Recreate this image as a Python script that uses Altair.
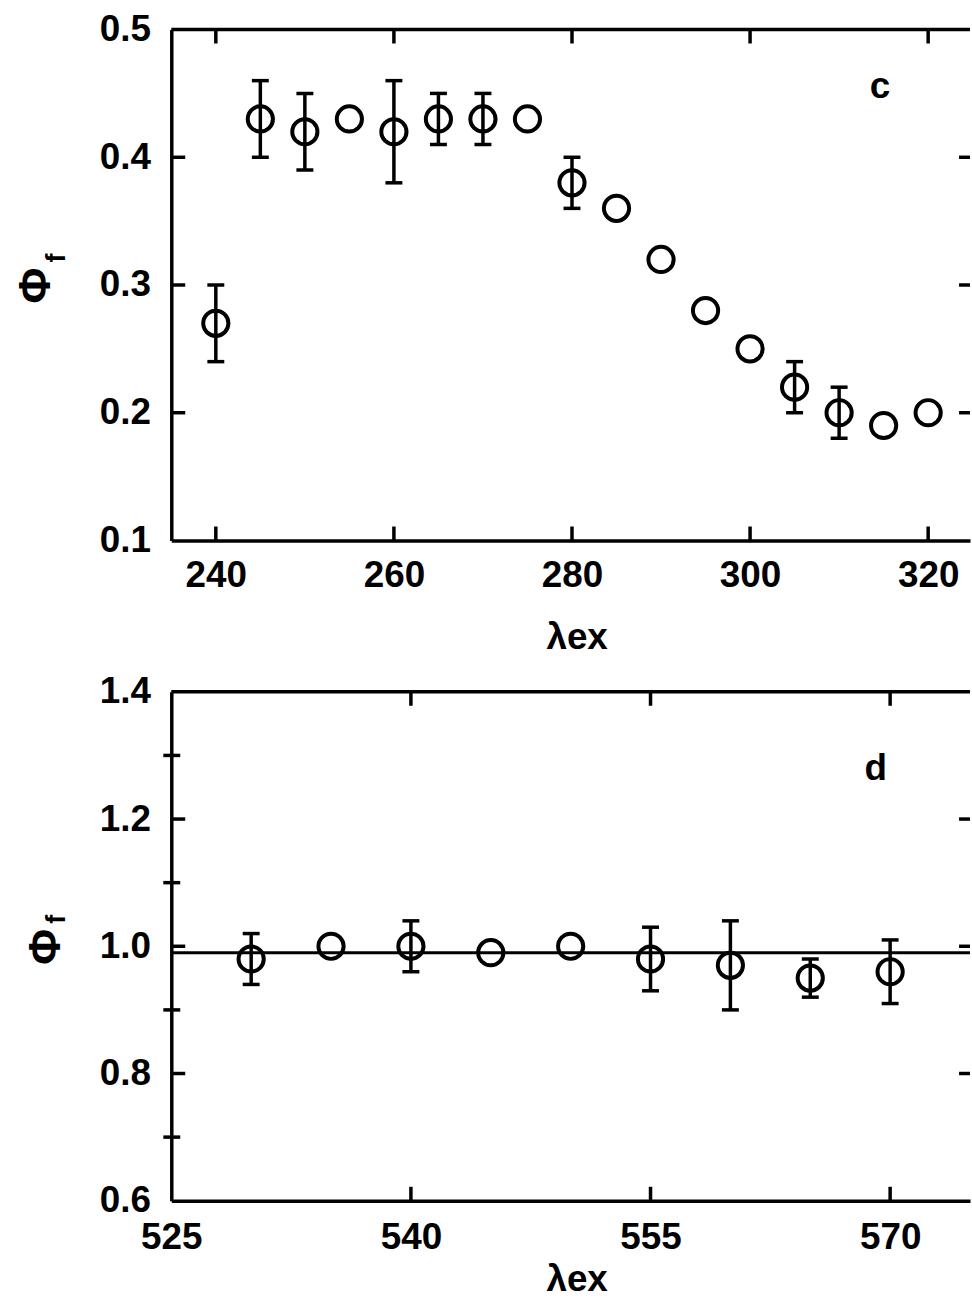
import altair as alt
import pandas as pd

# ---------------- data: panel c ----------------
lam_c = [240, 245, 250, 255, 260, 265, 270, 275, 280, 285, 290, 295, 300, 305, 310, 315, 320]
phi_c = [0.27, 0.43, 0.42, 0.43, 0.42, 0.43, 0.43, 0.43, 0.38, 0.36, 0.32, 0.28, 0.25, 0.22, 0.20, 0.19, 0.20]
err_c = [0.03, 0.03, 0.03, 0.0, 0.04, 0.02, 0.02, 0.0, 0.02, 0.0, 0.0, 0.0, 0.0, 0.02, 0.02, 0.0, 0.0]

xdom_c = [235, 324.7]
ydom_c = [0.1, 0.5]
xlab_c = [240, 260, 280, 300, 320]
ylab_c = [0.1, 0.2, 0.3, 0.4, 0.5]
xtick_c = [240, 260, 280, 300, 320]
ytick_c = [0.2, 0.3, 0.4]
yminor_c = []
letter_c = {"lam": [314.6], "phi": [0.455], "txt": ["c"]}

# ---------------- data: panel d ----------------
lam_d = [530, 535, 540, 545, 550, 555, 560, 565, 570]
phi_d = [0.98, 1.00, 1.00, 0.99, 1.00, 0.98, 0.97, 0.95, 0.96]
err_d = [0.04, 0.0, 0.04, 0.0, 0.0, 0.05, 0.07, 0.03, 0.05]
ref_d = [0.99]

xdom_d = [525, 575]
ydom_d = [0.6, 1.4]
xlab_d = [525, 540, 555, 570]
ylab_d = [0.6, 0.8, 1.0, 1.2, 1.4]
xtick_d = [540, 555, 570]
ytick_d = [0.8, 1.0, 1.2]
yminor_d = [0.7, 0.9, 1.1, 1.3]
letter_d = {"lam": [569.1], "phi": [1.278], "txt": ["d"]}

FONT = "Liberation Sans"
W = 802
FS = 37
TICK = 14
LW = 3.5


def panel(lam, phi, err, xdom, ydom, xlab, ylab, xtick, ytick, yminor, letter,
          h, x_lp, x_tp, y_tp, ref=None):
    df = pd.DataFrame({"lam": lam, "phi": phi, "err": err})
    df["lo"] = df["phi"] - df["err"]
    df["hi"] = df["phi"] + df["err"]
    dfe = df[df["err"] > 0]

    xs = alt.Scale(domain=xdom, nice=False, zero=False)
    ys = alt.Scale(domain=ydom, nice=False, zero=False)

    xaxis = alt.Axis(values=xlab, format="d", title="λex", ticks=False, tickSize=0,
                     labelPadding=x_lp, titlePadding=x_tp, titleX=407,
                     labelFlush=False, labelOverlap=False, grid=False,
                     labelFontSize=FS, titleFontSize=FS)
    yaxis = alt.Axis(values=ylab, format=".1f", title="Φ", ticks=False, tickSize=0,
                     labelPadding=21, titlePadding=y_tp, minExtent=88, maxExtent=88,
                     labelFlush=False, labelOverlap=False, grid=False,
                     labelFontSize=FS, titleFontSize=44)

    def X(f):
        return alt.X(f, scale=xs, axis=xaxis, title="λex")

    def Y(f):
        return alt.Y(f, scale=ys, axis=yaxis, title="Φ")

    layers = []
    if ref is not None:
        layers.append(alt.Chart(pd.DataFrame({"v": ref})).mark_rule(
            color="black", strokeWidth=3).encode(y=Y("v:Q")))
    ebar = alt.Chart(dfe).mark_rule(color="black", strokeWidth=LW).encode(
        x=X("lam:Q"), y=Y("lo:Q"), y2="hi:Q")
    cap_lo = alt.Chart(dfe).mark_tick(color="black", orient="horizontal",
                                      size=17, thickness=LW, opacity=1).encode(
        x=X("lam:Q"), y=Y("lo:Q"))
    cap_hi = alt.Chart(dfe).mark_tick(color="black", orient="horizontal",
                                      size=17, thickness=LW, opacity=1).encode(
        x=X("lam:Q"), y=Y("hi:Q"))
    pts = alt.Chart(df).mark_point(shape="circle", filled=False, color="black",
                                   strokeWidth=4, size=640, opacity=1).encode(
        x=X("lam:Q"), y=Y("phi:Q"))
    layers += [ebar, cap_lo, cap_hi, pts]

    # frame top line
    layers.append(alt.Chart(pd.DataFrame({"v": [0]})).mark_rule(
        color="black", strokeWidth=LW).encode(
        x=alt.value(0), x2=alt.value(W), y=alt.value(0)))

    # inward ticks
    yt = pd.DataFrame({"v": ytick})
    xt = pd.DataFrame({"v": xtick})
    layers.append(alt.Chart(yt).mark_rule(color="black", strokeWidth=LW).encode(
        y=Y("v:Q"), x=alt.value(0), x2=alt.value(TICK)))
    layers.append(alt.Chart(yt).mark_rule(color="black", strokeWidth=LW).encode(
        y=Y("v:Q"), x=alt.value(W - 11), x2=alt.value(W)))
    layers.append(alt.Chart(xt).mark_rule(color="black", strokeWidth=LW).encode(
        x=X("v:Q"), y=alt.value(h), y2=alt.value(h - TICK)))
    layers.append(alt.Chart(xt).mark_rule(color="black", strokeWidth=LW).encode(
        x=X("v:Q"), y=alt.value(0), y2=alt.value(TICK)))
    if yminor:
        layers.append(alt.Chart(pd.DataFrame({"v": yminor})).mark_rule(
            color="black", strokeWidth=LW).encode(
            y=Y("v:Q"), x=alt.value(-8), x2=alt.value(9)))

    # subscript f of the axis title
    layers.append(alt.Chart(pd.DataFrame({"t": ["f"]})).mark_text(
        font=FONT, fontSize=27, fontWeight="bold", angle=270, color="black",
        align="center", baseline="middle").encode(
        text="t:N", x=alt.value(-115), y=alt.value(h / 2 - 27)))

    # panel letter
    layers.append(alt.Chart(pd.DataFrame(letter)).mark_text(
        font=FONT, fontSize=FS, fontWeight="bold", color="black", align="center",
        baseline="middle").encode(
        x=X("lam:Q"), y=Y("phi:Q"), text="txt:N"))

    return alt.layer(*layers).properties(width=W, height=h)


top = panel(lam_c, phi_c, err_c, xdom_c, ydom_c, xlab_c, ylab_c, xtick_c, ytick_c,
            yminor_c, letter_c, h=513, x_lp=17, x_tp=26, y_tp=25)
bottom = panel(lam_d, phi_d, err_d, xdom_d, ydom_d, xlab_d, ylab_d, xtick_d, ytick_d,
               yminor_d, letter_d, h=511, x_lp=19, x_tp=6, y_tp=15, ref=ref_d)

chart = alt.vconcat(top, bottom, spacing=152, bounds="flush").properties(
    padding={"left": 15, "top": 8, "right": 0, "bottom": 0}
).configure_view(stroke=None).configure_axis(
    labelFont=FONT, titleFont=FONT, labelColor="black", titleColor="black",
    titleFontWeight="bold", labelFontWeight="bold",
    domainColor="black", domainWidth=LW,
)

chart.save("out.html", embed_options={"renderer": "svg", "actions": False})
